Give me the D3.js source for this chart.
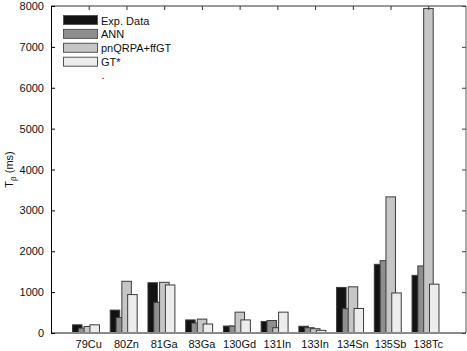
<!DOCTYPE html>
<html>
<head>
<meta charset="utf-8">
<script src="https://cdn.jsdelivr.net/npm/d3@7"></script>
<style>
  body { margin: 0; background: #fff; }
  text { font-family: "Liberation Sans", Arial, sans-serif; fill: #111; }
</style>
</head>
<body>
<div id="chart"></div>
<script>
var svgWidth = 467;
var svgHeight = 351;

// values
var categories = ["79Cu", "80Zn", "81Ga", "83Ga", "130Gd", "131In", "133In", "134Sn", "135Sb", "138Tc"];
var seriesNames = ["Exp. Data", "ANN", "pnQRPA+ffGT", "GT*"];
var expData = [200, 560, 1230, 320, 170, 280, 165, 1115, 1680, 1410];
var annData = [120, 380, 750, 245, 170, 305, 130, 595, 1770, 1640];
var pnqrpaData = [160, 1265, 1240, 340, 510, 130, 105, 1130, 3330, 7940];
var gtData = [200, 940, 1175, 220, 320, 510, 65, 600, 980, 1195];
var yTicks = [0, 1000, 2000, 3000, 4000, 5000, 6000, 7000, 8000];

var colors = ["#121212", "#8e8e8e", "#c6c6c6", "#ececec"];
var series = [expData, annData, pnqrpaData, gtData];

var plotL = 51, plotR = 466, plotT = 6, plotB = 333;

var svg = d3.select("#chart")
  .append("svg")
  .attr("width", svgWidth)
  .attr("height", svgHeight);

var xScale = d3.scaleLinear().domain([0, categories.length + 1]).range([plotL, plotR]);
var yScale = d3.scaleLinear().domain([0, 8000]).range([plotB, plotT]);

// bars: MATLAB style grouped, slightly overlapping, later ones on top
var barW = 0.252, barStep = 0.154, barOff = -0.43;
series.forEach(function(vals, k) {
  svg.append("g").selectAll("rect").data(vals).enter()
    .append("rect")
    .attr("x", (d, i) => xScale(i + 1 + barOff + k * barStep))
    .attr("y", d => yScale(d))
    .attr("width", xScale(barW) - xScale(0))
    .attr("height", d => yScale(0) - yScale(d))
    .attr("fill", colors[k])
    .attr("stroke", "#3c3c3c")
    .attr("stroke-width", 1);
});

// baseline
svg.append("line")
  .attr("x1", plotL).attr("x2", plotR)
  .attr("y1", yScale(0)).attr("y2", yScale(0))
  .attr("stroke", "#8a8a8a").attr("stroke-width", 2);

// box
svg.append("line").attr("x1", plotL).attr("x2", plotR).attr("y1", plotT).attr("y2", plotT)
  .attr("stroke", "#333");
svg.append("line").attr("x1", plotR).attr("x2", plotR).attr("y1", plotT).attr("y2", plotB)
  .attr("stroke", "#555");

// left axis, ticks inward
var yAxis = d3.axisLeft(yScale).tickValues(yTicks).tickSize(-4).tickPadding(7).tickFormat(d3.format("d"));
var gy = svg.append("g").attr("transform", `translate(${plotL},0)`).call(yAxis);
gy.select(".domain").attr("stroke", "#000");
gy.selectAll("text").attr("font-size", 11).attr("font-family", "Liberation Sans, Arial, sans-serif").attr("fill", "#111");

// right ticks
var yAxisR = d3.axisRight(yScale).tickValues(yTicks).tickSize(-4).tickFormat("");
var gyr = svg.append("g").attr("transform", `translate(${plotR},0)`).call(yAxisR);
gyr.select(".domain").remove();
gyr.selectAll("line").attr("stroke", "#444");

// top ticks at categories
var xTop = d3.axisTop(xScale).tickValues(d3.range(1, categories.length + 1)).tickSize(-4).tickFormat("");
var gxt = svg.append("g").attr("transform", `translate(0,${plotT})`).call(xTop);
gxt.select(".domain").remove();
gxt.selectAll("line").attr("stroke", "#333");

// category labels
svg.append("g").selectAll("text").data(categories).enter()
  .append("text")
  .attr("x", (d, i) => xScale(i + 1))
  .attr("y", 348)
  .attr("text-anchor", "middle")
  .attr("font-size", 11)
  .text(d => d);

// y label
var yl = svg.append("text")
  .attr("transform", `translate(13, ${(plotT + plotB) / 2}) rotate(-90)`)
  .attr("text-anchor", "middle")
  .attr("font-size", 11);
yl.append("tspan").text("T");
yl.append("tspan").attr("font-size", 8).attr("dy", 3).text("β");
yl.append("tspan").attr("dy", -3).text(" (ms)");

// legend
var legend = svg.append("g");
seriesNames.forEach(function(name, k) {
  var y0 = 15 + k * 13.9;
  legend.append("rect")
    .attr("x", 63.5).attr("y", y0 + 0.5)
    .attr("width", 34).attr("height", 9)
    .attr("fill", colors[k]).attr("stroke", "#555");
  legend.append("text")
    .attr("x", 101).attr("y", y0 + 9.5)
    .attr("font-size", 11)
    .text(name);
});
legend.append("text").attr("x", 101.5).attr("y", 79).attr("font-size", 11).text(".");
</script>
</body>
</html>
